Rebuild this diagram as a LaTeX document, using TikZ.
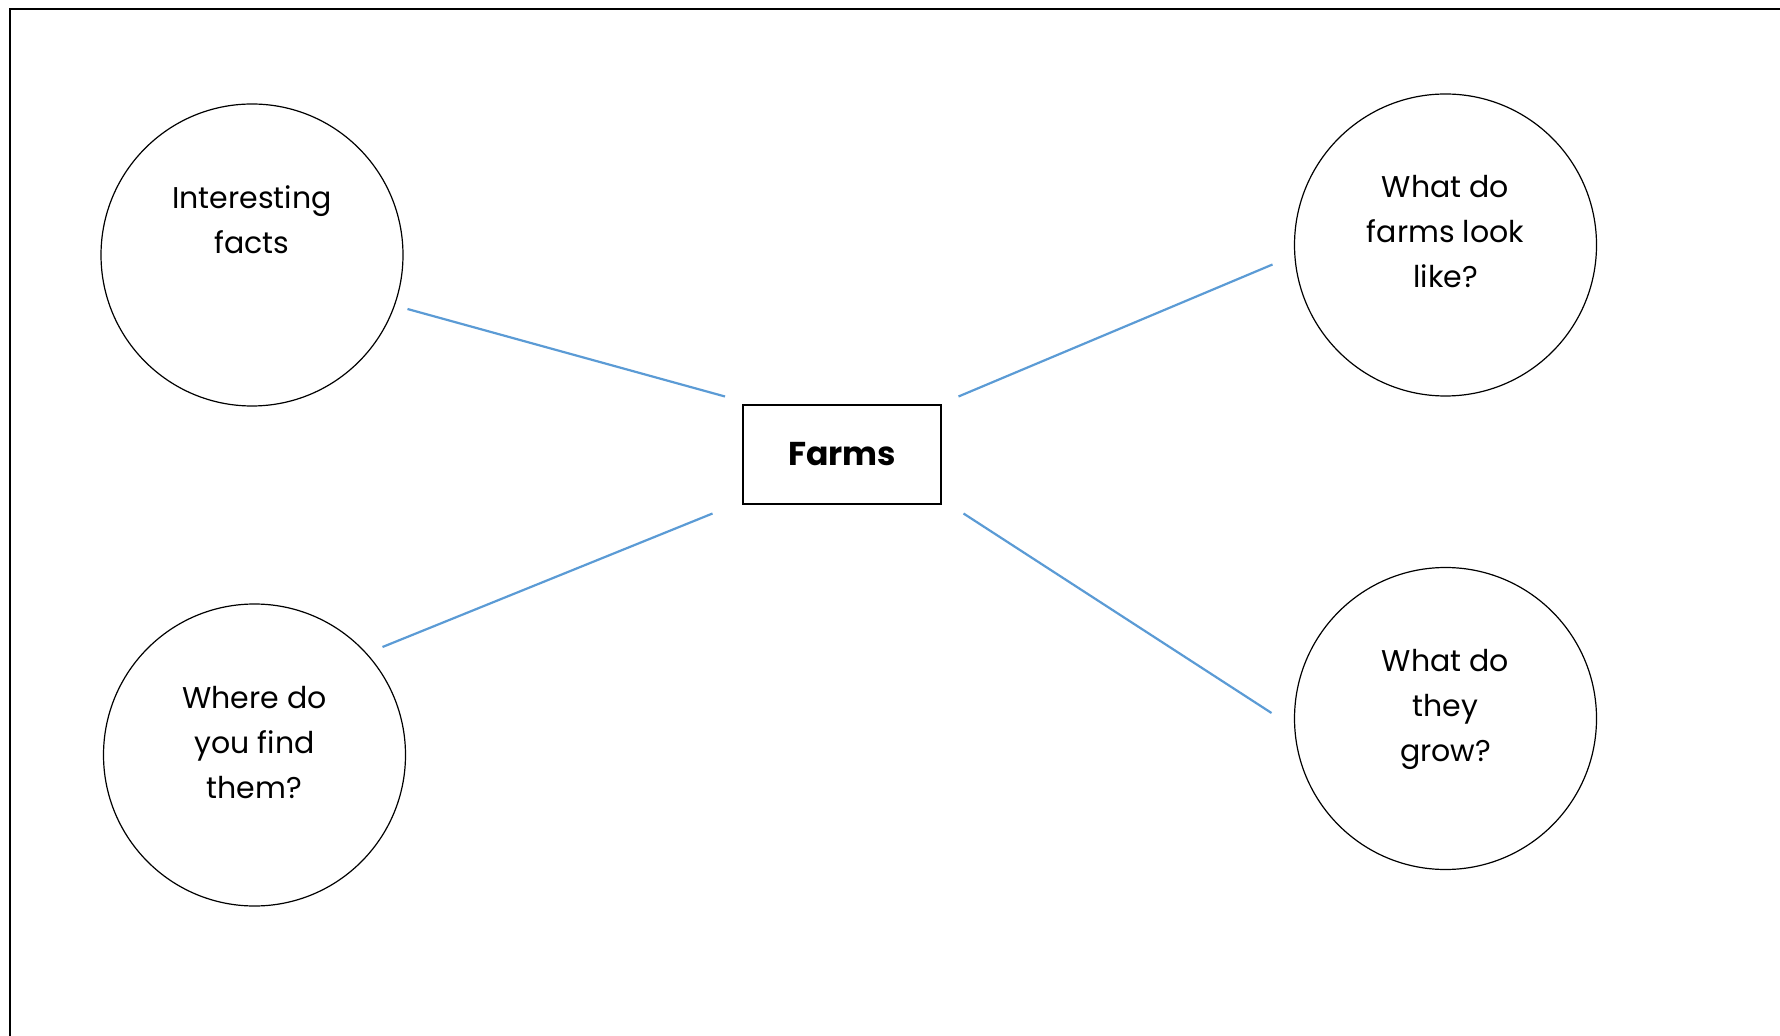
\documentclass[tikz,border=0pt]{standalone}
\usepackage{fontspec}
\setmainfont{Poppins}
\usetikzlibrary{positioning}
\definecolor{spokeblue}{RGB}{91,155,213}
\tikzset{
  bubble/.style={draw, circle, line width=0.6pt, minimum size=151pt, inner sep=0pt},
  bubbletext/.style={align=center, inner sep=0pt, font=\fontsize{15}{22.5}\selectfont},
  topic/.style={draw, line width=1pt, minimum width=98.7pt, minimum height=49.5pt, inner sep=0pt, font=\bfseries\fontsize{16.5}{20}\selectfont},
  spoke/.style={draw=spokeblue, line width=1.1pt}
}
\begin{document}
\begin{tikzpicture}[x=0.5pt,y=-0.5pt]
\useasboundingbox (0,0) rectangle (1780,1036);
\draw [line width=0.6pt] (1780,9) -- (10,9) -- (10,1036);
% centre topic
\node [topic] (farms) at (842,454.5) {Farms};
% the four bubbles
\node [bubble] (facts) at (252,255) {};
\node [bubble] (look) at (1445.5,245) {};
\node [bubble] (where) at (254.5,755) {};
\node [bubble] (grow) at (1445.5,718.5) {};
\node [bubbletext, below=41pt of facts.north] (factstext) {Interesting\\facts};
\node [bubbletext, below=41pt of look.north] (looktext) {What do\\farms look\\like?};
\node [bubbletext, below=41pt of where.north] (wheretext) {Where do\\you find\\them?};
\node [bubbletext, below=41pt of grow.north] (growtext) {What do\\they\\grow?};
% spoke ends
\coordinate (f1) at (725,396.5);
\coordinate (f2) at (958.5,396.5);
\coordinate (f3) at (712.5,513.5);
\coordinate (f4) at (963.5,513.5);
\coordinate (b1) at (407.5,309);
\coordinate (b2) at (1272.5,264.5);
\coordinate (b3) at (382.5,647);
\coordinate (b4) at (1271.5,713);
\draw [spoke] (b1) -- (f1);
\draw [spoke] (f2) -- (b2);
\draw [spoke] (b3) -- (f3);
\draw [spoke] (f4) -- (b4);
\end{tikzpicture}
\end{document}
